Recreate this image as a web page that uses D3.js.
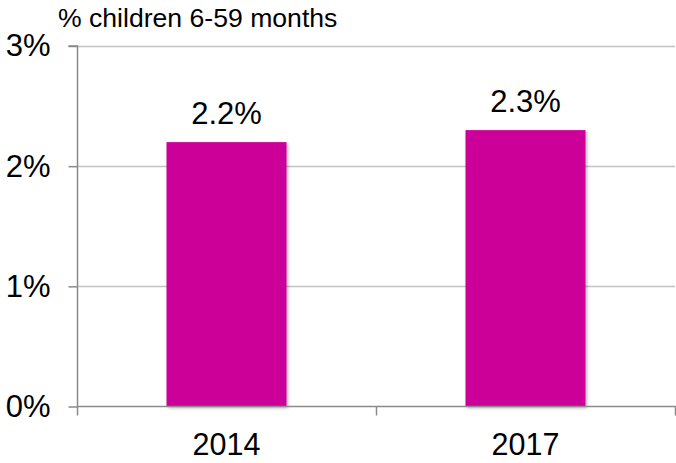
<!DOCTYPE html>
<html>
<head>
<meta charset="utf-8">
<script src="https://cdn.jsdelivr.net/npm/d3@7/dist/d3.min.js"></script>
<style>
  html, body { margin: 0; padding: 0; background: #fff; }
  svg { display: block; font-family: "Liberation Sans", Arial, sans-serif; }
</style>
</head>
<body>
<svg id="chart" width="676" height="463"></svg>
<script>
// Anaemia prevalence among children 6-59 months, by survey year
const years = ["2014", "2017"];
const values = [2.2, 2.3];
const yTicks = [0, 1, 2, 3];
const yTitle = "% children 6-59 months";

const svg = d3.select("#chart");
const plotLeft = 77, plotRight = 675, plotTop = 46, plotBottom = 406.5;

const x = d3.scaleBand().domain(years).range([plotLeft, plotRight])
  .paddingInner(0.5987).paddingOuter(0.5987 / 2);
const y = d3.scaleLinear().domain([0, 3]).range([plotBottom, plotTop]);

// soft drop shadow under the bars
const defs = svg.append("defs");
const f = defs.append("filter").attr("id", "shadow")
  .attr("x", "-10%").attr("y", "-10%").attr("width", "130%").attr("height", "130%");
f.append("feDropShadow").attr("dx", 1.5).attr("dy", 1.5)
  .attr("stdDeviation", 1.5).attr("flood-color", "#000").attr("flood-opacity", 0.3);

// horizontal gridlines
svg.append("g").selectAll("line").data(yTicks.filter(d => d > 0)).join("line")
  .attr("x1", plotLeft).attr("x2", plotRight)
  .attr("y1", d => Math.round(y(d)) + 0.5).attr("y2", d => Math.round(y(d)) + 0.5)
  .attr("stroke", "#c4c4c4").attr("stroke-width", 1.3);

// bars
svg.append("g").selectAll("rect").data(values).join("rect")
  .attr("x", (d, i) => x(years[i]))
  .attr("width", x.bandwidth())
  .attr("y", d => y(d))
  .attr("height", d => y(0) - y(d))
  .attr("fill", "#cc0099")
  .attr("filter", "url(#shadow)");

// value labels
svg.append("g").selectAll("text").data(values).join("text")
  .attr("x", (d, i) => x(years[i]) + x.bandwidth() / 2)
  .attr("y", d => y(d) - 18)
  .attr("text-anchor", "middle")
  .attr("font-size", 31)
  .attr("fill", "#000")
  .text(d => d.toFixed(1) + "%");

// y axis
const yAxis = svg.append("g").attr("transform", `translate(${plotLeft + 0.5},0)`)
  .call(d3.axisLeft(y).tickValues(yTicks).tickSize(9).tickPadding(18)
    .tickFormat(d => d + "%"));
yAxis.select(".domain").attr("stroke", "#8a8a8a").attr("stroke-width", 1.5)
  .attr("d", `M-9,${y(3)}H0V${y(0) + 9}`);
yAxis.selectAll(".tick line").attr("stroke", "#8a8a8a").attr("stroke-width", 1.5);
yAxis.selectAll(".tick text").attr("font-size", 31).attr("fill", "#000")
  .attr("font-family", "Liberation Sans, Arial, sans-serif");

// x axis: baseline with ticks at category boundaries
const xAxis = svg.append("g");
xAxis.append("line")
  .attr("x1", plotLeft).attr("x2", plotRight + 1)
  .attr("y1", y(0)).attr("y2", y(0))
  .attr("stroke", "#8a8a8a").attr("stroke-width", 1.5);
const edges = years.map(d => x(d) + x.bandwidth() + x.step() * x.paddingInner() / 2);
xAxis.selectAll(".edge").data(edges).join("line").attr("class", "edge")
  .attr("x1", d => Math.min(d, plotRight) + 0.5).attr("x2", d => Math.min(d, plotRight) + 0.5)
  .attr("y1", y(0)).attr("y2", y(0) + 9)
  .attr("stroke", "#8a8a8a").attr("stroke-width", 1.5);
xAxis.selectAll("text").data(years).join("text")
  .attr("x", d => x(d) + x.bandwidth() / 2)
  .attr("y", 455)
  .attr("text-anchor", "middle")
  .attr("font-size", 30.5)
  .attr("fill", "#000")
  .text(d => d);

// axis title
svg.append("text")
  .attr("x", 58).attr("y", 27)
  .attr("font-size", 26.6)
  .attr("fill", "#000")
  .text(yTitle);
</script>
</body>
</html>
